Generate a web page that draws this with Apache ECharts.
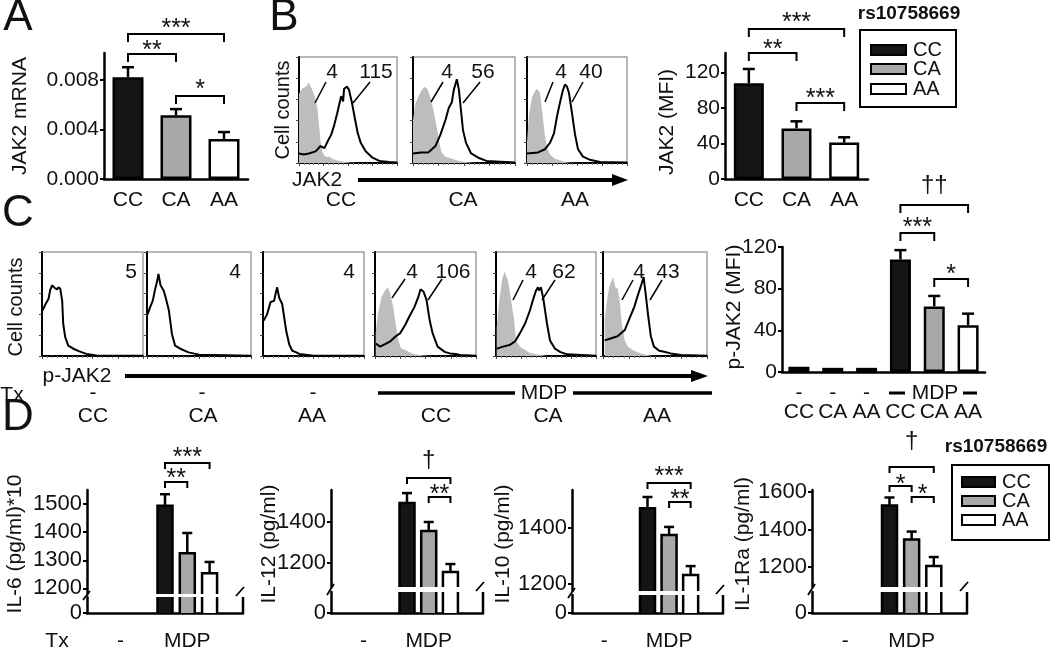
<!DOCTYPE html>
<html><head><meta charset="utf-8">
<script src="https://cdn.jsdelivr.net/npm/echarts@6/dist/echarts.min.js"></script>
<style>html,body{margin:0;padding:0;background:#fff}#c{width:1050px;height:650px}</style>
</head><body><div id="c"></div>
<script>
// ================= DATA =================
const genotypes = ['CC', 'CA', 'AA'];
// A: JAK2 mRNA
const mrnaMean = [0.00824, 0.00517, 0.00323];
const mrnaSem  = [0.00081, 0.00049, 0.00057];
// B: JAK2 MFI
const jak2Mfi = [108, 57, 41];
const jak2Sem = [16, 8, 6];
const jak2IsoMfi = [4, 4, 4];
const jak2HistMfi = [115, 56, 40];
// C: p-JAK2 MFI
const pjakCats = ['CC', 'CA', 'AA', 'CC', 'CA', 'AA'];
const pjakTx = ['-', '-', '-', 'MDP', 'MDP', 'MDP'];
const pjakMfi = [5, 4, 4, 108, 63, 45];
const pjakSem = [0, 0, 0, 9, 10, 11];
const pjakHistMfi = [5, 4, 4, 106, 62, 43];
// D: cytokines (unstimulated not shown)
const cytoCats = ['CC', 'CA', 'AA', 'CC', 'CA', 'AA', ''];
const cytoTx = ['-', 'MDP'];
const il6 = [null, null, null, 1494, 1325, 1254];
const il6Sem = [0, 0, 0, 41, 72, 40];
const il12 = [null, null, null, 1493, 1356, 1156];
const il12Sem = [0, 0, 0, 48, 44, 39];
const il10 = [null, null, null, 1471, 1375, 1232];
const il10Sem = [0, 0, 0, 40, 29, 32];
const il1ra = [null, null, null, 1528, 1347, 1205];
const il1raSem = [0, 0, 0, 43, 42, 48];
// significance comparisons [cat1, cat2, label]
const sigA = [[0, 2, '***'], [0, 1, '**'], [1, 2, '*']];
const sigB = [[0, 2, '***'], [0, 1, '**'], [1, 2, '***']];
const sigC = [[3, 5, '\u2020\u2020'], [3, 4, '***'], [4, 5, '*']];
const sigD1 = [[3, 5, '***'], [3, 4, '**']];
const sigD2 = [[3, 5, '\u2020'], [4, 5, '**']];
const sigD3 = [[3, 5, '***'], [4, 5, '**']];
const sigD4 = [[3, 5, '\u2020'], [3, 4, '*'], [4, 5, '*']];
// flow histograms [channel (0-100 log scale), % of max]
const histB_CC_iso = [[0,65],[3,70],[7,72],[10,76],[14,68],[17,60],[19,50],[20.5,35],[22,20],[24,10],[27,6],[31,6],[34,4],[41,2],[51,0.5],[60,0],[100,0]];
const histB_CC_jak2 = [[0,9],[5,8],[10,9],[17,11],[22,16],[26,14],[29,20],[33,27],[36,36],[39,47],[43,63],[45,58],[46,70],[49,72],[51,69],[54,57],[57,42],[60,28],[63,19],[68,11],[75,5],[82,2],[92,1],[100,0.5]];
const histB_CA_iso = [[0,40],[2,55],[5,62],[8,68],[11,72],[14,70],[17,62],[20,50],[22,40],[24,30],[26,18],[28,10],[32,6],[38,4],[45,2],[55,0.5],[62,0],[100,0]];
const histB_CA_jak2 = [[0,9],[1,9],[8,10],[15,10],[22,16],[27,27],[32,41],[35,52],[38,57],[40,69],[43,79],[45,69],[47,50],[49,31],[52,19],[57,9],[64,5],[72,2],[100,0.5]];
const histB_AA_iso = [[0,20],[2,45],[5,62],[8,68],[10,70],[13,66],[16,42],[18,25],[20,15],[23,8],[28,4],[35,2],[40,0.5],[48,0],[100,0]];
const histB_AA_jak2 = [[0,9],[11,10],[18,13],[23,19],[27,28],[30,44],[33,57],[36,69],[38,74],[40,72],[42,66],[45,47],[48,27],[51,13],[56,6],[63,3],[73,1],[100,0.5]];
const histC_CC_ctrl = [[0.7,44],[3,49],[6.5,55],[8,63],[10,68],[11,69.5],[13,65],[15,64],[16,66],[18,65],[20,53],[21,31],[23,18],[26,10],[31,7],[37,4.5],[44,2],[54,0.6],[100,0.3]];
const histC_CA_ctrl = [[0.6,40],[3,47],[5.5,53],[8,65],[10,73],[11,79],[13,68],[14.5,69],[16,63],[18,56],[21,44],[24,21],[27,10],[32,7],[40,3.5],[50,1.3],[100,0.3]];
const histC_AA_ctrl = [[0.7,34],[4,40],[7.5,52],[11,53],[12.5,60],[14,66],[16,56],[19,50],[21,37],[23,24],[26,11],[29,5],[33,3.5],[36,2],[50,0.3],[100,0.3]];
const histC_CC_iso = [[0.7,22],[3,41],[6.5,57],[10,63],[13,66],[15,60],[18,47],[21,28],[23,15],[26,7],[30,6],[33,4],[38,2],[48,0.6],[57,0],[100,0]];
const histC_CC_mdp = [[0.7,12],[5,9],[10,11.5],[15,14],[20,18.5],[25,22],[30,30],[34,38],[39,47],[43,57],[45,64],[48,62],[51,54],[54,35],[57,22],[62,9],[69,4],[74,2.5],[80,2],[84,1],[100,0.3]];
const histC_CA_iso = [[0.7,28],[3.4,54],[6,73],[8.5,81],[12,73],[15,54],[18,35],[20,15],[24,9],[29,6],[34,3],[44,1],[51,0],[100,0]];
const histC_CA_mdp = [[0.7,7],[7,9],[13.5,10.5],[19,14],[24,22],[29,31],[34,44],[37,54],[40,63],[42,66],[43,63],[45,66],[47.5,54],[51,31],[54,15],[59,7],[64,4],[71,1.6],[100,0.3]];
const histC_AA_iso = [[1.6,35],[4,54],[6,66],[8.6,73],[9.5,76],[12,66],[14,65],[16,54],[18,31],[21,15],[24,9],[30,5],[36.5,2.5],[46,0.3],[50,0],[100,0]];
const histC_AA_mdp = [[1.6,15],[8,17],[14,19],[21,25],[25,35],[30,47],[34,60],[37,69],[39,76],[41,60],[43.5,38],[46,19],[49,9],[54,5],[59,4],[65,2.5],[75,1],[100,0.3]];

// ================= STYLE / LAYOUT =================
const FONT = '"Liberation Sans", Arial, Helvetica, sans-serif';
const genoColors = ['#151515', '#a8a8a8', '#ffffff'];
const AX = {color: '#000', width: 2.5};
const chart = echarts.init(document.getElementById('c'), null, {renderer: 'canvas'});
const grids = [], xAxes = [], yAxes = [], series = [];

function addGrid(l, t, w, h, extra) {
  grids.push(Object.assign({left: l, top: t, width: w, height: h, containLabel: false, show: false}, extra || {}));
  return grids.length - 1;
}
function catAxis(gi, cats, showLabel, margin, show) {
  xAxes.push({gridIndex: gi, type: 'category', data: cats, boundaryGap: true, show: show !== false,
    axisLine: {show: true, lineStyle: AX}, axisTick: {show: false},
    axisLabel: {show: showLabel, interval: 0, margin: margin || 8, color: '#111', fontFamily: FONT, fontSize: 21},
    splitLine: {show: false}});
}
function valAxis(gi, min, max, ticks, fmt, fs) {
  yAxes.push({gridIndex: gi, type: 'value', min: min, max: max,
    axisLine: {show: true, lineStyle: AX},
    axisTick: {show: true, length: 4, lineStyle: {color: '#000', width: 2}, customValues: ticks},
    axisLabel: {show: true, customValues: ticks, formatter: fmt, color: '#111', fontFamily: FONT, fontSize: fs || 21, margin: 5},
    splitLine: {show: false}});
}
function errRender(hw) {
  return function (params, api) {
    const v = api.value(1), e = api.value(2);
    if (v == null || isNaN(v) || !e) return null;
    const i = api.value(0);
    const b = api.coord([i, v]), t = api.coord([i, v + e]);
    return {type: 'group', children: [
      {type: 'line', shape: {x1: b[0], y1: b[1], x2: t[0], y2: t[1]}, style: {stroke: '#000', lineWidth: 2.5}},
      {type: 'line', shape: {x1: t[0] - hw, y1: t[1], x2: t[0] + hw, y2: t[1]}, style: {stroke: '#000', lineWidth: 2.5}}
    ]};
  };
}
function addBars(gi, values, sems, bw, hw) {
  series.push({type: 'bar', xAxisIndex: gi, yAxisIndex: gi, barWidth: bw, z: 2,
    data: values.map((v, i) => ({value: v, itemStyle: {color: genoColors[i % 3]}})),
    itemStyle: {borderColor: '#000', borderWidth: 2.5}});
  series.push({type: 'custom', xAxisIndex: gi, yAxisIndex: gi, z: 3, clip: false,
    data: values.map((v, i) => [i, v, sems[i]]), renderItem: errRender(hw)});
}
function brokenBar(part, bw) {
  return function (params, api) {
    const v = api.value(1);
    if (v == null || isNaN(v)) return null;
    const cs = params.coordSys;
    const p = api.coord([api.value(0), v]);
    const bottom = cs.y + cs.height;
    const top = Math.max(p[1], cs.y);
    const x0 = p[0] - bw / 2, x1 = p[0] + bw / 2;
    const col = genoColors[api.value(0) % 3];
    const kids = [{type: 'rect', shape: {x: x0, y: top, width: bw, height: bottom - top}, style: {fill: col}}];
    if (part === 'upper') {
      kids.push({type: 'polyline', shape: {points: [[x0, bottom], [x0, top], [x1, top], [x1, bottom]]}, style: {stroke: '#000', lineWidth: 2.5, fill: null}});
    } else {
      kids.push({type: 'line', shape: {x1: x0, y1: top, x2: x0, y2: bottom}, style: {stroke: '#000', lineWidth: 2.5}});
      kids.push({type: 'line', shape: {x1: x1, y1: top, x2: x1, y2: bottom}, style: {stroke: '#000', lineWidth: 2.5}});
    }
    return {type: 'group', children: kids};
  };
}
function addHist(l, t, w, h, iso, stain) {
  const gi = addGrid(l, t, w, h, {show: true, borderColor: '#a0a0a0', borderWidth: 1.5, backgroundColor: 'transparent'});
  xAxes.push({gridIndex: gi, type: 'value', min: 0, max: 100, interval: 25,
    axisLine: {show: true, lineStyle: {color: '#000', width: 2}},
    axisTick: {show: true, length: 3, lineStyle: {color: '#444', width: 1}},
    minorTick: {show: true, splitNumber: 5, length: 2, lineStyle: {color: '#777', width: 1}},
    axisLabel: {show: false}, splitLine: {show: false}});
  yAxes.push({gridIndex: gi, type: 'value', min: 0, max: 100, interval: 20,
    axisLine: {show: true, lineStyle: {color: '#000', width: 2}},
    axisTick: {show: true, length: 3, lineStyle: {color: '#444', width: 1}},
    axisLabel: {show: false}, splitLine: {show: false}});
  if (iso) series.push({type: 'line', xAxisIndex: gi, yAxisIndex: gi, data: iso, symbol: 'none', z: 1,
    lineStyle: {width: 0}, areaStyle: {color: '#bdbdbd', opacity: 1}});
  series.push({type: 'line', xAxisIndex: gi, yAxisIndex: gi, data: stain, symbol: 'none', z: 2,
    lineStyle: {color: '#000', width: 2}});
  return gi;
}

// ---- Panel A
const gA = addGrid(104, 53, 144, 126);
catAxis(gA, genotypes, true, 11);
valAxis(gA, 0, 0.0102, [0, 0.004, 0.008], v => v.toFixed(3));
addBars(gA, mrnaMean, mrnaSem, 31, 6);

// ---- Panel B histograms
const bBoxes = [[299, 57, 98, 106], [413, 57, 102, 106], [527, 57, 100, 106]];
const bHists = [[histB_CC_iso, histB_CC_jak2], [histB_CA_iso, histB_CA_jak2], [histB_AA_iso, histB_AA_jak2]];
bBoxes.forEach((b, i) => addHist(b[0], b[1], b[2], b[3], bHists[i][0], bHists[i][1]));
// ---- Panel B bars
const gB = addGrid(725, 53, 143, 126);
catAxis(gB, genotypes, true, 11);
valAxis(gB, 0, 142, [0, 40, 80, 120], v => v);
addBars(gB, jak2Mfi, jak2Sem, 30, 6);

// ---- Panel C histograms
const cBoxes = [[42, 252, 101, 104], [147, 252, 104, 104], [263, 252, 101, 104], [375, 252, 101, 104], [496, 252, 100, 104], [603, 252, 104, 104]];
const cHists = [[null, histC_CC_ctrl], [null, histC_CA_ctrl], [null, histC_AA_ctrl],
  [histC_CC_iso, histC_CC_mdp], [histC_CA_iso, histC_CA_mdp], [histC_AA_iso, histC_AA_mdp]];
cBoxes.forEach((b, i) => addHist(b[0], b[1], b[2], b[3], cHists[i][0], cHists[i][1]));
// ---- Panel C bars
const gC = addGrid(782, 247, 203, 125);
catAxis(gC, pjakCats, true, 30);
valAxis(gC, 0, 120, [0, 40, 80, 120], v => v);
addBars(gC, pjakMfi, pjakSem, 21, 6);

// ---- Panel D
const dLayout = [
  {left: 87, width: 156, upTop: 490, upH: 104, loTop: 597, loH: 16, min: 1180, max: 1550, ticks: [1200, 1300, 1400, 1500]},
  {left: 331, width: 152, upTop: 490, upH: 97, loTop: 592, loH: 21, min: 1083, max: 1556, ticks: [1200, 1400]},
  {left: 572, width: 151, upTop: 490, upH: 101, loTop: 595, loH: 18, min: 1175, max: 1536, ticks: [1200, 1400]},
  {left: 812, width: 155, upTop: 490, upH: 97, loTop: 592, loH: 21, min: 1093, max: 1611, ticks: [1200, 1400, 1600]}
];
const dValues = [[il6, il6Sem], [il12, il12Sem], [il10, il10Sem], [il1ra, il1raSem]];
const dGrids = [];
dLayout.forEach((L, k) => {
  const gu = addGrid(L.left, L.upTop, L.width, L.upH);
  catAxis(gu, cytoCats, false, 8, false);
  valAxis(gu, L.min, L.max, L.ticks, v => v, 22);
  const gl = addGrid(L.left, L.loTop, L.width, L.loH);
  catAxis(gl, cytoCats, false, 8);
  valAxis(gl, 0, 100, [0], v => v, 22);
  const vals = dValues[k][0], sems = dValues[k][1];
  series.push({type: 'custom', xAxisIndex: gu, yAxisIndex: gu, z: 2, clip: false,
    data: vals.map((v, i) => [i, v]), renderItem: brokenBar('upper', 15)});
  series.push({type: 'custom', xAxisIndex: gl, yAxisIndex: gl, z: 2, clip: false,
    data: vals.map((v, i) => [i, v]), renderItem: brokenBar('lower', 15)});
  series.push({type: 'custom', xAxisIndex: gu, yAxisIndex: gu, z: 3, clip: false,
    data: vals.map((v, i) => [i, v, sems[i]]), renderItem: errRender(5)});
  dGrids.push([gu, gl]);
});

chart.setOption({
  animation: false,
  textStyle: {fontFamily: FONT},
  grid: grids, xAxis: xAxes, yAxis: yAxes, series: series
});

// ================= ANNOTATIONS =================
const G = [];
function txt(x, y, s, size, opts) {
  opts = opts || {};
  G.push({type: 'text', x: x, y: y, rotation: opts.rot || 0, z: 10,
    style: {text: s, x: 0, y: 0, font: (opts.bold ? 'bold ' : '') + size + 'px ' + FONT, fill: '#111',
      align: opts.align || 'center', textAlign: opts.align || 'center', verticalAlign: 'middle', textVerticalAlign: 'middle'}});
}
function seg(pts, w) {
  G.push({type: 'polyline', z: 10, shape: {points: pts}, style: {stroke: '#000', lineWidth: w || 2, fill: null}});
}
function catX(gi, c) { return chart.convertToPixel({gridIndex: gi}, [c, 0])[0]; }
function sigs(gi, list, lineYs, labelYs, drop) {
  list.forEach((s, k) => {
    const x1 = catX(gi, s[0]), x2 = catX(gi, s[1]), y = lineYs[k];
    seg([[x1, y + drop], [x1, y], [x2, y], [x2, y + drop]], 2);
    const isStar = s[2].indexOf('*') >= 0;
    txt((x1 + x2) / 2, labelYs[k] + (isStar ? 6 : 0), s[2], isStar ? 25 : 24);
  });
}
// panel letters
txt(18, 18, 'A', 44); txt(284, 18, 'B', 44); txt(18, 214, 'C', 44); txt(18, 418, 'D', 44);
// axis names
txt(20, 116, 'JAK2 mRNA', 21, {rot: Math.PI / 2});
txt(667, 122, 'JAK2 (MFI)', 21, {rot: Math.PI / 2});
txt(734, 307, 'p-JAK2 (MFI)', 21, {rot: Math.PI / 2});
txt(283, 110, 'Cell counts', 20, {rot: Math.PI / 2});
txt(16, 307, 'Cell counts', 20, {rot: Math.PI / 2});
const dNames = ['IL-6 (pg/ml)*10', 'IL-12 (pg/ml)', 'IL-10 (pg/ml)', 'IL-1Ra (pg/ml)'];
const dNameX = [15, 269, 503, 743];
dNames.forEach((n, k) => txt(dNameX[k], 544, n, 21, {rot: Math.PI / 2}));

// significance
sigs(gA, sigA, [34, 54, 96], [23, 45, 84], 8);
sigs(gB, sigB, [29, 53, 103], [17, 44, 93], 8);
sigs(gC, sigC, [205, 233, 279], [185, 222, 269], 8);
sigs(dGrids[0][0], sigD1, [463, 482], [452, 473], 6);
sigs(dGrids[1][0], sigD2, [478, 497], [460, 489], 6);
sigs(dGrids[2][0], sigD3, [483, 502], [471, 494], 6);
sigs(dGrids[3][0], sigD4, [467, 486, 497], [441, 479, 489], 6);

// histogram labels and leader lines
txt(317, 180, 'JAK2', 21);
seg([[358, 180], [614, 180]], 4);
G.push({type: 'polygon', z: 10, shape: {points: [[612, 174], [628, 180], [612, 186]]}, style: {fill: '#000'}});
const bHistLabelX = [[332, 376], [447, 483], [561, 591]];
const bLeaders = [[[326, 82, 315, 103], [370, 82, 353, 103]], [[443, 82, 431, 102], [480, 82, 463, 103]], [[553, 82, 545, 102], [583, 82, 572, 102]]];
bHistLabelX.forEach((p, i) => {
  txt(p[0], 72, String(jak2IsoMfi[i]), 21);
  txt(p[1], 72, String(jak2HistMfi[i]), 21);
  bLeaders[i].forEach(l => seg([[l[0], l[1]], [l[2], l[3]]], 1.5));
});
const bLabelX = [341, 463, 575];
genotypes.forEach((g, i) => txt(bLabelX[i], 200, g, 21));

txt(77, 376, 'p-JAK2', 21);
seg([[125, 376], [693, 376]], 4);
G.push({type: 'polygon', z: 10, shape: {points: [[691, 370], [708, 376], [691, 382]]}, style: {fill: '#000'}});
txt(131, 272, String(pjakHistMfi[0]), 21);
txt(235, 272, String(pjakHistMfi[1]), 21);
txt(349, 272, String(pjakHistMfi[2]), 21);
const cIsoX = [412, 531, 639], cMdpX = [453, 564, 668];
const cLeaders = [[[405, 279, 392, 298], [442, 279, 428, 300]], [[523, 280, 513, 300], [555, 280, 542, 300]], [[633, 280, 622, 300], [662, 280, 650, 300]]];
cIsoX.forEach((x, i) => {
  txt(x, 272, String(jak2IsoMfi[i]), 21);
  txt(cMdpX[i], 272, String(pjakHistMfi[i + 3]), 21);
  cLeaders[i].forEach(l => seg([[l[0], l[1]], [l[2], l[3]]], 1.5));
});
txt(12, 395, 'Tx', 21);
[93, 202, 313].forEach((x, i) => txt(x, 393, pjakTx[i], 21));
seg([[378, 393], [515, 393]], 3.5); seg([[573, 393], [712, 393]], 3.5);
txt(544, 393, pjakTx[3], 21);
const cLabX = [93, 203, 312, 436, 548, 657];
pjakCats.forEach((c, i) => txt(cLabX[i], 416, c, 21));
// C bar tx row
[0, 1, 2].forEach(i => txt(catX(gC, i), 393, pjakTx[i], 21));
seg([[889, 393], [905, 393]], 3); seg([[963, 393], [977, 393]], 3);
txt(935, 393, pjakTx[3], 21);

// D tx rows and break marks
txt(57, 641, 'Tx', 21);
dLayout.forEach((L, k) => {
  const gu = dGrids[k][0];
  txt(catX(gu, 1), 641, cytoTx[0], 21);
  txt(catX(gu, 4), 641, cytoTx[1], 21);
  const ub = L.upTop + L.upH, lt = L.loTop, lb = L.loTop + L.loH, xl = L.left, xr = L.left + L.width;
  seg([[xl - 4, lt + 3], [xl + 3, ub - 3]], 1.8);
  seg([[xr, lt], [xr, lb]], 2.5);
  seg([[xr - 7, lt - 1], [xr + 1, lt - 10]], 1.8);
});

// legends
function legend(cx, ty, bx, by, bw, bh, sx, sw, rowsY, tx) {
  txt(cx, ty, 'rs10758669', 19, {bold: true});
  G.push({type: 'rect', z: 10, shape: {x: bx, y: by, width: bw, height: bh}, style: {fill: '#fff', stroke: '#000', lineWidth: 2}});
  genotypes.forEach((g, i) => {
    G.push({type: 'rect', z: 11, shape: {x: sx, y: rowsY[i] - 5, width: sw, height: 10}, style: {fill: genoColors[i], stroke: '#000', lineWidth: 2}});
    txt(tx, rowsY[i], g, 20, {align: 'left'});
  });
}
legend(909, 14, 860, 30, 96, 77, 871, 35, [50, 69, 89], 913);
legend(996, 447, 952, 465, 97, 75, 962, 33, [482, 501, 520], 1002);

chart.setOption({graphic: {elements: G}});
</script></body></html>
